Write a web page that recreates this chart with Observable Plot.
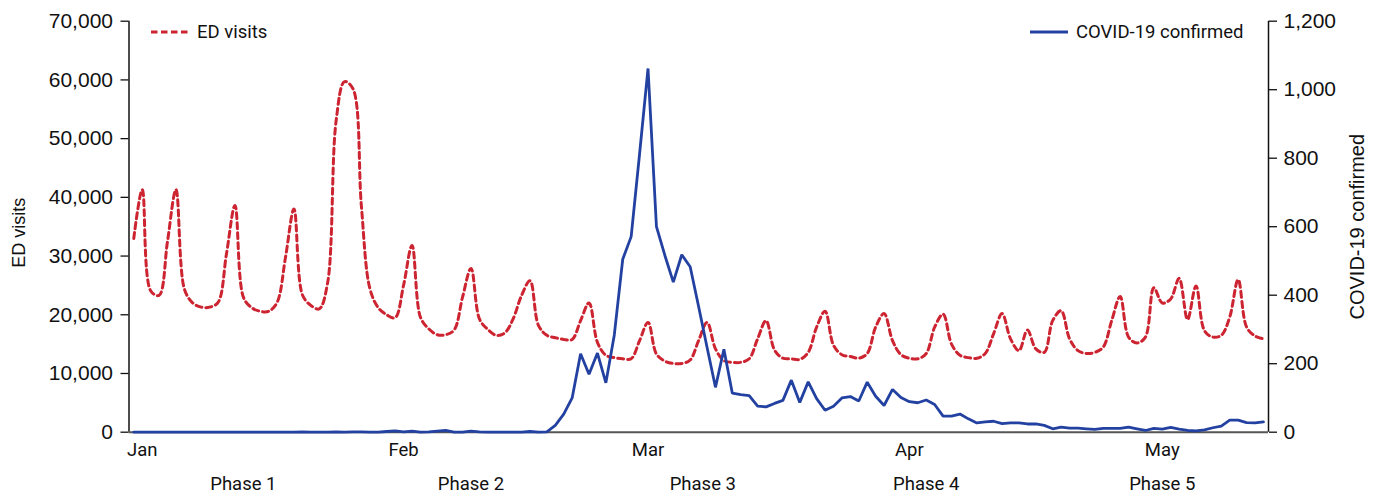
<!DOCTYPE html>
<html>
<head>
<meta charset="utf-8">
<script src="https://cdn.jsdelivr.net/npm/d3@7"></script>
<script src="https://cdn.jsdelivr.net/npm/@observablehq/plot@0.6"></script>
<style>
  body { margin: 0; background: #fff; }
  #wrap { position: relative; width: 1378px; height: 495px; }
  .leg { position: absolute; top: 20px; height: 24px; display: flex; align-items: center; gap: 8px;
         font-family: Roboto, "Noto Sans", sans-serif; font-size: 18.5px; color: #111; white-space: nowrap; }
  .leg svg { display: block; }
</style>
</head>
<body>
<div id="wrap"></div>
<script>
// ---- data (daily, 2019-12-31 .. 2020-05-13) ----
const firstDay = "2019-12-31";
const edVisits = [
  33000, 41300, 24100, 23300, 32500, 41300, 24400, 22000, 21300, 21300,
  22100, 30400, 38600, 23000, 21200, 20600, 20600, 22100, 29800, 38000,
  23400, 21600, 21000, 25500, 53000, 59700, 58500, 38500, 24500, 21200,
  20000, 19500, 25000, 31800, 19600, 17600, 16600, 16600, 17400, 23000,
  27900, 19300, 17500, 16500, 16900, 19300, 23300, 25800, 18200, 16500,
  16100, 15800, 15800, 19000, 22000, 15300, 13100, 12700, 12500, 12500,
  15600, 18700, 13300, 12100, 11700, 11700, 12300, 15600, 18700, 14200,
  12200, 11900, 11900, 12500, 15900, 19000, 14000, 12600, 12500, 12400,
  13600, 17900, 20600, 14800, 13200, 12900, 12600, 13400, 17900, 20200,
  15600, 13200, 12600, 12500, 13400, 17900, 20100, 15000, 13100, 12700,
  12600, 13400, 16800, 20200, 15900, 13900, 17400, 14200, 13600, 19000,
  20700, 15900, 13900, 13400, 13600, 14500, 19000, 23100, 16200, 15200,
  16200, 24600, 22000, 22700, 26200, 19200, 24900, 17300, 16200, 16500,
  19600, 26000, 17900, 16400, 15900
];
const covidConfirmed = [
  0, 0, 0, 0, 0, 0, 0, 0, 0, 0,
  0, 0, 0, 0, 0, 0, 0, 0, 0, 0,
  1, 0, 0, 0, 1, 0, 1, 1, 0, 0,
  2, 4, 1, 3, 0, 1, 3, 5, 0, 0,
  3, 1, 0, 0, 0, 0, 0, 2, 0, 1,
  20, 53, 100, 229, 169, 231, 144, 284, 505, 571,
  813, 1062, 600, 516, 438, 518, 483, 367, 248, 131,
  242, 114, 110, 107, 76, 74, 84, 93, 152, 87,
  147, 98, 64, 76, 100, 104, 91, 146, 105, 78,
  125, 101, 89, 86, 94, 81, 47, 47, 53, 39,
  27, 30, 32, 25, 27, 27, 24, 24, 20, 10,
  15, 12, 12, 10, 8, 11, 11, 11, 15, 10,
  5, 11, 9, 14, 9, 5, 4, 7, 13, 18,
  35, 35, 28, 27, 30
];
const edTicks = [0, 10000, 20000, 30000, 40000, 50000, 60000, 70000];
const covidTicks = [0, 200, 400, 600, 800, 1000, 1200];
const monthTicks = ["2020-01-01", "2020-02-01", "2020-03-01", "2020-04-01", "2020-05-01"];
const phaseLabels = ["Phase 1", "Phase 2", "Phase 3", "Phase 4", "Phase 5"];
const phaseDates = ["2020-01-13", "2020-02-09", "2020-03-07T12:00Z", "2020-04-03", "2020-05-01"];
const seriesNames = ["ED visits", "COVID-19 confirmed"];
const yTitleLeft = "ED visits";
const yTitleRight = "COVID-19 confirmed";

const RED = "#cc2431";
const BLUE = "#2341a0";
const DAY = 864e5;

const start = new Date(firstDay).getTime();
const scaleFactor = edTicks[edTicks.length - 1] / covidTicks[covidTicks.length - 1];
const rows = edVisits.map((v, i) => ({
  date: new Date(start + i * DAY),
  ed: v,
  covid: covidConfirmed[i] * scaleFactor
}));
const jan1 = new Date("2020-01-01").getTime();
const xDomain = [new Date(jan1 - 1.566 * DAY), new Date(jan1 + 133.6 * DAY)];

const chart = Plot.plot({
  width: 1378,
  height: 495,
  marginTop: 20.7,
  marginBottom: 63.3,
  marginLeft: 128.5,
  marginRight: 110,
  style: { fontFamily: "'Liberation Sans', Arial, sans-serif", fontSize: "21px", color: "#111", background: "#fff", overflow: "visible" },
  x: { type: "utc", domain: xDomain, axis: null },
  y: { domain: [0, 70000], axis: null },
  marks: [
    Plot.axisY(edTicks, { anchor: "left", tickSize: 8, tickPadding: 8, tickFormat: d3.format(","), label: null, strokeWidth: 1.3 }),
    Plot.axisY(covidTicks.map(v => v * scaleFactor), { anchor: "right", tickSize: 8, tickPadding: 7,
      tickFormat: v => d3.format(",")(Math.round(v / scaleFactor)), label: null, strokeWidth: 1.3 }),
    Plot.axisX(monthTicks.map(d => new Date(d)), { anchor: "bottom", tickSize: 0, tickPadding: 11,
      tickFormat: d3.utcFormat("%b"), label: null, fontFamily: "Roboto", fontSize: 18.5 }),
    Plot.text(phaseLabels, { x: (d, i) => new Date(phaseDates[i]), text: d => d, frameAnchor: "bottom",
      lineAnchor: "top", dy: 44.3, fontFamily: "Roboto", fontSize: 18.5, fill: "#111" }),
    Plot.ruleX(xDomain, { stroke: "#111", strokeWidth: 1.5 }),
    Plot.ruleY([0], { stroke: "#555", strokeWidth: 2 }),
    Plot.line(rows, { x: "date", y: "ed", stroke: RED, strokeWidth: 3, strokeDasharray: "6,4", curve: "catmull-rom" }),
    Plot.line(rows, { x: "date", y: "covid", stroke: BLUE, strokeWidth: 2.8, strokeLinejoin: "miter" }),
    Plot.text([yTitleLeft], { frameAnchor: "left", textAnchor: "middle", lineAnchor: "middle", rotate: -90, dx: -110, dy: 6, fontSize: 18, fill: "#111" }),
    Plot.text([yTitleRight], { frameAnchor: "right", textAnchor: "middle", lineAnchor: "middle", rotate: -90, dx: 89, fontSize: 20, fill: "#111" })
  ]
});

const wrap = document.getElementById("wrap");
wrap.appendChild(chart);

// legend (inside plot area, top-left and top-right)
const legendItems = [
  { name: seriesNames[0], color: RED, dash: "6.5,3.5", left: 151 },
  { name: seriesNames[1], color: BLUE, dash: null, left: 1030 }
];
for (const item of legendItems) {
  const div = document.createElement("div");
  div.className = "leg";
  div.style.left = item.left + "px";
  div.innerHTML = `<svg width="38" height="6"><line x1="0" y1="3" x2="38" y2="3" stroke="${item.color}" stroke-width="3" ${item.dash ? `stroke-dasharray="${item.dash}"` : ""}/></svg><span>${item.name}</span>`;
  wrap.appendChild(div);
}
</script>
</body>
</html>
